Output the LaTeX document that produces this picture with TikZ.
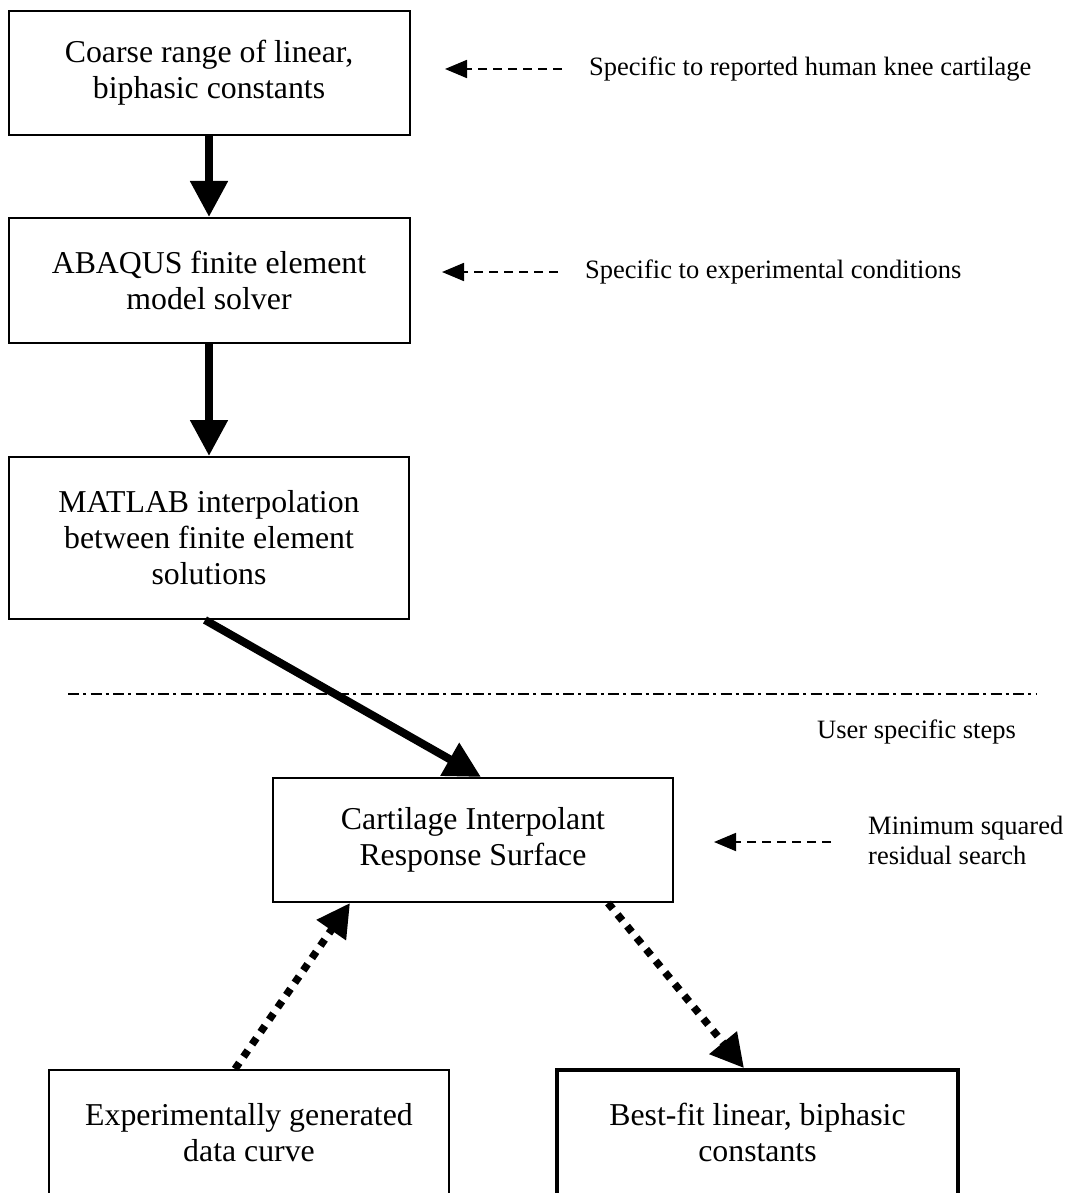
\documentclass[tikz,border=0pt]{standalone}
\usepackage{fontspec}
\setmainfont{Liberation Serif}
\usetikzlibrary{arrows.meta}
\begin{document}
\begin{tikzpicture}[x=1pt,y=-1pt,
  box/.style={draw, line width=2pt, align=center, inner sep=0pt,
    minimum width=401pt, minimum height=124pt,
    font=\fontsize{31.8}{36}\selectfont},
  side/.style={anchor=west, inner sep=0pt, align=left,
    font=\fontsize{26.5}{30}\selectfont},
  thickarrow/.style={line width=8pt, -{Triangle[length=36pt,width=36pt]}},
  dotarrow/.style={line width=7.5pt, dash pattern=on 7.5pt off 7.5pt,
    -{Triangle[length=33pt,width=34pt]}},
  dasharrow/.style={line width=1.8pt, dash pattern=on 9pt off 6pt,
    -{Triangle[length=22pt,width=18pt]}},
  sepline/.style={line width=2pt, dash pattern=on 11pt off 4pt on 3pt off 4.5pt}]
\useasboundingbox (0,0) rectangle (1069,1193);
\clip (0,0) rectangle (1069,1193);

% main boxes
\node[box] (coarse) at (209,73) {Coarse range of linear,\\biphasic constants};
\node[box, minimum height=125pt] (abaqus) at (209,280.5) {ABAQUS finite element\\model solver};
\node[box, minimum width=400pt, minimum height=162pt] (matlab) at (209,538)
  {MATLAB interpolation\\between finite element\\solutions};
\node[box, minimum width=400pt] (cirs) at (473,840) {Cartilage Interpolant\\Response Surface};
\node[box, minimum width=400pt, minimum height=125pt] (exp) at (249,1132.5)
  {Experimentally generated\\data curve};
\node[box, line width=3.8pt, minimum height=125pt] (best) at (757.5,1132.5)
  {Best-fit linear, biphasic\\constants};

% side labels
\node[side] (lab1) at (589,69) {Specific to reported human knee cartilage};
\node[side] (lab2) at (585,272) {Specific to experimental conditions};
\node[side] (lab3) at (817,732) {User specific steps};
\node[side] (lab4) at (868,840) {Minimum squared\\residual search};

% dashed pointer coordinates
\coordinate (d1s) at (562,69);  \coordinate (d1e) at (445,69);
\coordinate (d2s) at (558,272); \coordinate (d2e) at (442,272);
\coordinate (d3s) at (831,842); \coordinate (d3e) at (714,842);
\draw[dasharrow] (d1s) -- (d1e);
\draw[dasharrow] (d2s) -- (d2e);
\draw[dasharrow] (d3s) -- (d3e);

% separator
\coordinate (sepL) at (68,694);
\coordinate (sepR) at (1037,694);
\draw[sepline] (sepL) -- (sepR);

% thick arrows
\draw[thickarrow] (coarse.south) -- (abaqus.north);
\draw[thickarrow] (abaqus.south) -- (matlab.north);
\draw[thickarrow] ([xshift=-4pt]matlab.south) -- ([xshift=8pt]cirs.north);

% dotted arrows
\draw[dotarrow] ([xshift=-14pt]exp.north) -- ([xshift=-123pt]cirs.south);
\draw[dotarrow] ([xshift=135pt]cirs.south) -- ([xshift=-13.5pt]best.north);
\end{tikzpicture}
\end{document}
